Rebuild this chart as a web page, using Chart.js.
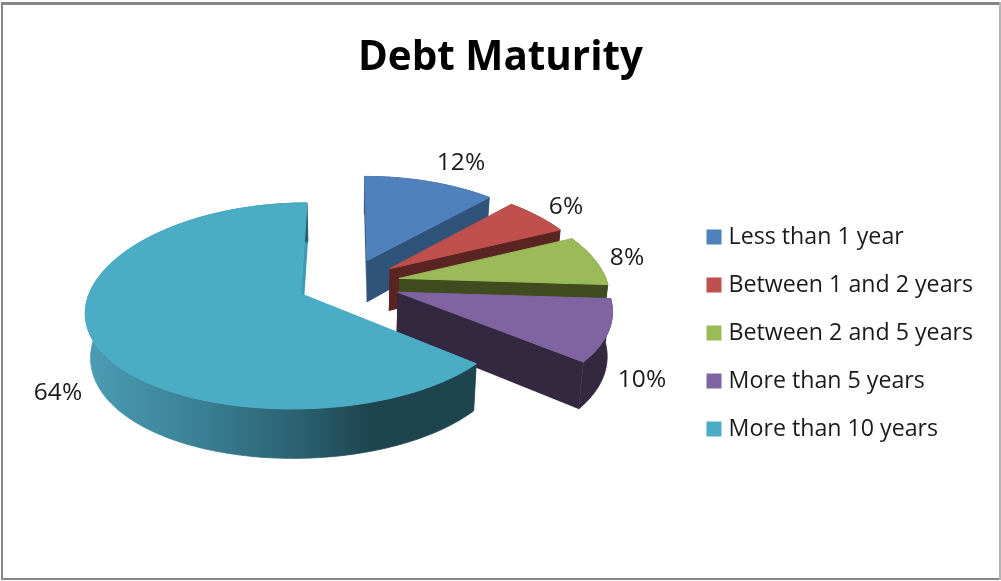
<!DOCTYPE html>
<html>
<head>
<meta charset="utf-8">
<style>
  html, body { margin: 0; padding: 0; background: #fff; }
  canvas { display: block; }
</style>
<script src="https://cdn.jsdelivr.net/npm/chart.js@4"></script>
</head>
<body>
<canvas id="chart" width="1001" height="581"></canvas>
<script>
const titleText = 'Debt Maturity';
const categories = ['Less than 1 year', 'Between 1 and 2 years', 'Between 2 and 5 years', 'More than 5 years', 'More than 10 years'];
const shares = [12, 6, 8, 10, 64];
const topColors = ['#4f81bd', '#c0504d', '#9bbb59', '#8064a2', '#4bacc6'];
const wallColors = ['#30537a', '#5a2422', '#404b20', '#33283f', '#1e444e'];
const cutColors = ['#30537a', '#5a2422', '#404b20', '#33283f', '#4199b2'];

// Percent label centres on the page.
const labelCentres = [[461, 163], [566, 207], [627, 258], [642, 380], [58, 393]];

// Camera used to tilt the pie: plane coordinates run X to the right and Y away from the viewer.
const camera = { ox: 348.5, oy: 283, sx: 208, sy: 99, perspectiveX: 0.153, perspectiveY: 0.1177, depth: 43, wallShrink: 0.98 };
const EXPLODE = 0.25;
const FONT = '"Open Sans", "Noto Sans", sans-serif';

function project(X, Y, lower) {
  const wx = 1 + camera.perspectiveX * Y;
  const wy = 1 + camera.perspectiveY * Y;
  const shrink = lower ? camera.wallShrink : 1;
  return {
    x: camera.ox + shrink * camera.sx * X / wx,
    y: camera.oy - camera.sy * Y / wy + (lower ? camera.depth / wy : 0)
  };
}

function tracePolyline(ctx, points, moveFirst) {
  points.forEach((p, i) => {
    if (i === 0 && moveFirst) ctx.moveTo(p.x, p.y);
    else ctx.lineTo(p.x, p.y);
  });
}

function drawSlice(ctx, arc, index) {
  // The library measures angles from 3 o'clock; the plane uses sin/cos from 12 o'clock.
  const a0 = arc.startAngle + Math.PI / 2;
  const a1 = arc.endAngle + Math.PI / 2;
  const mid = (a0 + a1) / 2;
  const apexX = EXPLODE * Math.sin(mid);
  const apexY = EXPLODE * Math.cos(mid);
  const steps = Math.max(8, Math.ceil((a1 - a0) * 40));
  const rimTop = [];
  const rimLow = [];
  for (let s = 0; s <= steps; s++) {
    const t = a0 + (a1 - a0) * s / steps;
    const X = apexX + Math.sin(t);
    const Y = apexY + Math.cos(t);
    rimTop.push(project(X, Y, false));
    rimLow.push(project(X, Y, true));
  }
  const apexTop = project(apexX, apexY, false);
  const apexLow = project(apexX, apexY, true);

  // Cut faces first, so the curved wall and the top can sit over them.
  [[rimTop[0], rimLow[0]], [rimTop[steps], rimLow[steps]]].forEach(([top, low]) => {
    ctx.beginPath();
    ctx.moveTo(apexTop.x, apexTop.y);
    ctx.lineTo(top.x, top.y);
    ctx.lineTo(low.x, low.y);
    ctx.lineTo(apexLow.x, apexLow.y);
    ctx.closePath();
    ctx.fillStyle = cutColors[index];
    ctx.fill();
  });

  // Curved outer wall; the large slice fades from lit to shaded across its sweep.
  let wallFill = wallColors[index];
  if (index === shares.length - 1) {
    const g = ctx.createLinearGradient(90, 0, 372, 0);
    g.addColorStop(0, '#4a9cb4');
    g.addColorStop(0.4, '#3a7f93');
    g.addColorStop(0.75, '#2a6070');
    g.addColorStop(1, '#1e444e');
    wallFill = g;
  }
  ctx.beginPath();
  tracePolyline(ctx, rimTop, true);
  tracePolyline(ctx, rimLow.slice().reverse(), false);
  ctx.closePath();
  ctx.fillStyle = wallFill;
  ctx.strokeStyle = wallFill;
  ctx.lineWidth = 0.8;
  ctx.fill();
  ctx.stroke();

  // Top face, stroked in its own colour so it covers the wall's hairline along the rim.
  ctx.beginPath();
  ctx.moveTo(apexTop.x, apexTop.y);
  tracePolyline(ctx, rimTop, false);
  ctx.closePath();
  ctx.fillStyle = arc.options.backgroundColor;
  ctx.strokeStyle = arc.options.backgroundColor;
  ctx.lineWidth = 1;
  ctx.fill();
  ctx.stroke();
}

const framePlugin = {
  id: 'frame',
  beforeDraw(chart) {
    const ctx = chart.ctx;
    ctx.save();
    ctx.fillStyle = '#ffffff';
    ctx.fillRect(0, 0, 1001, 581);
    ctx.fillStyle = '#868686';
    ctx.fillRect(1, 2, 999, 3);
    ctx.fillRect(1, 2, 2, 577);
    ctx.fillRect(1, 578, 999, 2);
    ctx.fillStyle = '#b4b4b4';
    ctx.fillRect(999, 2, 2, 578);
    ctx.restore();
  }
};

// Places the legend block beside the pie rather than against the canvas edge.
const legendPlacement = {
  id: 'legendPlacement',
  afterLayout(chart) {
    const legend = chart.legend;
    const w = legend.right - legend.left;
    const h = legend.bottom - legend.top;
    legend.left = 686.2;
    legend.right = legend.left + w;
    legend.top = 200.6;
    legend.bottom = legend.top + h;
  }
};

const pie3dPlugin = {
  id: 'pie3d',
  beforeDatasetsDraw(chart) {
    const ctx = chart.ctx;
    const arcs = chart.getDatasetMeta(0).data;
    ctx.save();
    ctx.lineJoin = 'round';
    arcs.forEach((arc, i) => drawSlice(ctx, arc, i));
    ctx.font = '24.5px ' + FONT;
    ctx.fillStyle = '#1a1a1a';
    ctx.textAlign = 'center';
    ctx.textBaseline = 'middle';
    shares.forEach((v, i) => {
      ctx.fillText(v + '%', labelCentres[i][0], labelCentres[i][1]);
    });
    ctx.restore();
    return false;
  }
};

new Chart(document.getElementById('chart'), {
  type: 'pie',
  data: {
    labels: categories,
    datasets: [{ data: shares, backgroundColor: topColors, borderWidth: 0 }]
  },
  plugins: [framePlugin, legendPlacement, pie3dPlugin],
  options: {
    responsive: false,
    animation: false,
    events: [],
    plugins: {
      tooltip: { enabled: false },
      title: {
        display: true,
        text: titleText,
        color: '#000000',
        font: { family: FONT, size: 40.4, weight: '700', lineHeight: 1.2 },
        padding: { top: 34, bottom: 5 }
      },
      legend: {
        position: 'right',
        align: 'start',
        labels: {
          color: '#1a1a1a',
          font: { family: FONT, size: 23.2, lineHeight: 1.2 },
          boxWidth: 6,
          boxHeight: 6,
          padding: 24.8,
          generateLabels(chart) {
            const base = Chart.overrides.pie.plugins.legend.labels.generateLabels(chart);
            return base.map(item => Object.assign(item, { lineWidth: 9, strokeStyle: item.fillStyle }));
          }
        }
      }
    }
  }
});
</script>
</body>
</html>
